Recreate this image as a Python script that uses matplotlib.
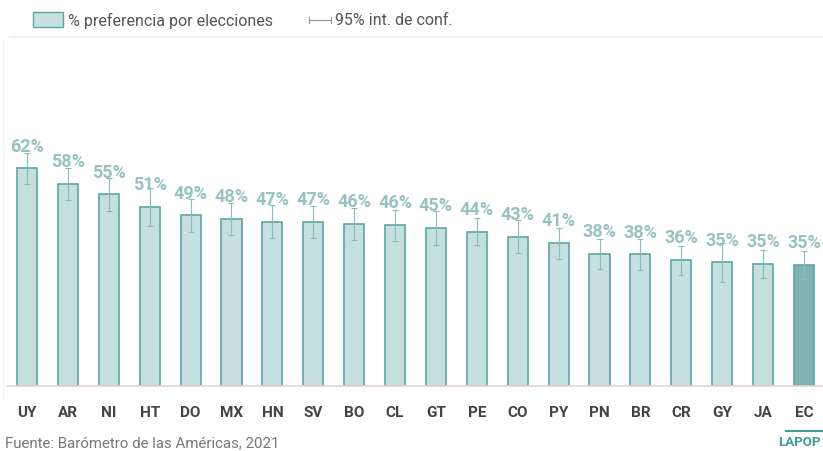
import matplotlib
matplotlib.use("Agg")
import matplotlib.pyplot as plt
from matplotlib.patches import Rectangle
from matplotlib.lines import Line2D

countries = ["UY", "AR", "NI", "HT", "DO", "MX", "HN", "SV", "BO", "CL",
             "GT", "PE", "CO", "PY", "PN", "BR", "CR", "GY", "JA", "EC"]
values = [62.0, 57.6, 54.6, 51.1, 48.6, 47.6, 46.8, 46.7, 46.1, 45.8,
          45.1, 44.0, 42.6, 40.7, 37.6, 37.5, 35.8, 35.2, 34.9, 34.6]
ci = [4.3, 4.6, 4.6, 5.4, 4.8, 4.6, 4.7, 4.5, 4.6, 4.4,
      4.8, 3.8, 4.6, 4.4, 4.3, 4.4, 4.1, 5.5, 4.0, 4.0]
highlight = "EC"

W, H = 823, 452
fig = plt.figure(figsize=(W / 100, H / 100), dpi=100)
ax = fig.add_axes([6.6 / W, (H - 387) / H, (824.4 - 6.6) / W, (387 - 40) / H])

fill = "#c6dfdf"
edge = "#5aa7a7"
fill_hl = "#80b4b4"
x = list(range(len(countries)))
colors = [fill_hl if c == highlight else fill for c in countries]
ax.bar(x, values, width=0.49, color=colors, edgecolor=edge, linewidth=1.2, zorder=2)
ax.errorbar(x, values, yerr=ci, fmt="none", ecolor="#8dbaba", elinewidth=0.8,
            capsize=2.5, capthick=0.8, zorder=3)
for xi, v in zip(x, values):
    ax.annotate(f"{round(v):d}%", (xi, v), xytext=(0, 16.5), textcoords="offset points",
                ha="center", va="center", fontsize=13, fontweight="bold",
                color="#98c1c1", family="Roboto", zorder=4)

ax.set_xlim(-0.5, len(countries) - 0.5)
ax.set_ylim(0, 98.9)
ax.set_xticks(x)
ax.set_xticklabels(countries, fontsize=11, fontweight="bold", color="#444444", family="Roboto")
ax.tick_params(axis="x", length=0, pad=14)
ax.set_yticks([])
for s in ["top", "right", "left"]:
    ax.spines[s].set_visible(False)
ax.spines["bottom"].set_color("#e6d3d6")
ax.spines["bottom"].set_linewidth(1.2)
ax.patch.set_alpha(0)

# top separator line and faint left border
fig.add_artist(Line2D([10 / W, 1], [1 - 38 / H, 1 - 38 / H], color="#eeeeee", lw=1.2))
fig.add_artist(Line2D([3 / W, 3 / W], [1 - 40 / H, 1 - 400 / H], color="#f2f2f2", lw=1.0))

# legend
fig.add_artist(Rectangle((33 / W, 1 - 28 / H), 30 / W, 15 / H, facecolor=fill,
                         edgecolor=edge, lw=1.0))
fig.text(68 / W, 1 - 20.5 / H, "% preferencia por elecciones", fontsize=11.5,
         color="#555555", va="center", family="Roboto")
ly = 1 - 20.5 / H
fig.add_artist(Line2D([309 / W, 331 / W], [ly, ly], color="#8a9a9a", lw=0.8))
fig.add_artist(Line2D([309 / W, 309 / W], [ly - 3 / H, ly + 3 / H], color="#8a9a9a", lw=0.8))
fig.add_artist(Line2D([331 / W, 331 / W], [ly - 3 / H, ly + 3 / H], color="#8a9a9a", lw=0.8))
fig.text(335 / W, ly, "95% int. de conf.", fontsize=11.5, color="#555555",
         va="center", family="Roboto")

# footer
fig.text(5 / W, 1 - 443 / H, "Fuente: Barómetro de las Américas, 2021", fontsize=10.8,
         color="#777777", va="center", family="Roboto")
fig.add_artist(Line2D([786 / W, 1], [1 - 432 / H, 1 - 432 / H], color="#3f9c9c", lw=1.5))
fig.text(821 / W, 1 - 443 / H, "LAPOP", fontsize=9.5, fontweight="bold",
         color="#3f9c9c", va="center", ha="right", family="Roboto")

fig.savefig("out.png", dpi=100)
